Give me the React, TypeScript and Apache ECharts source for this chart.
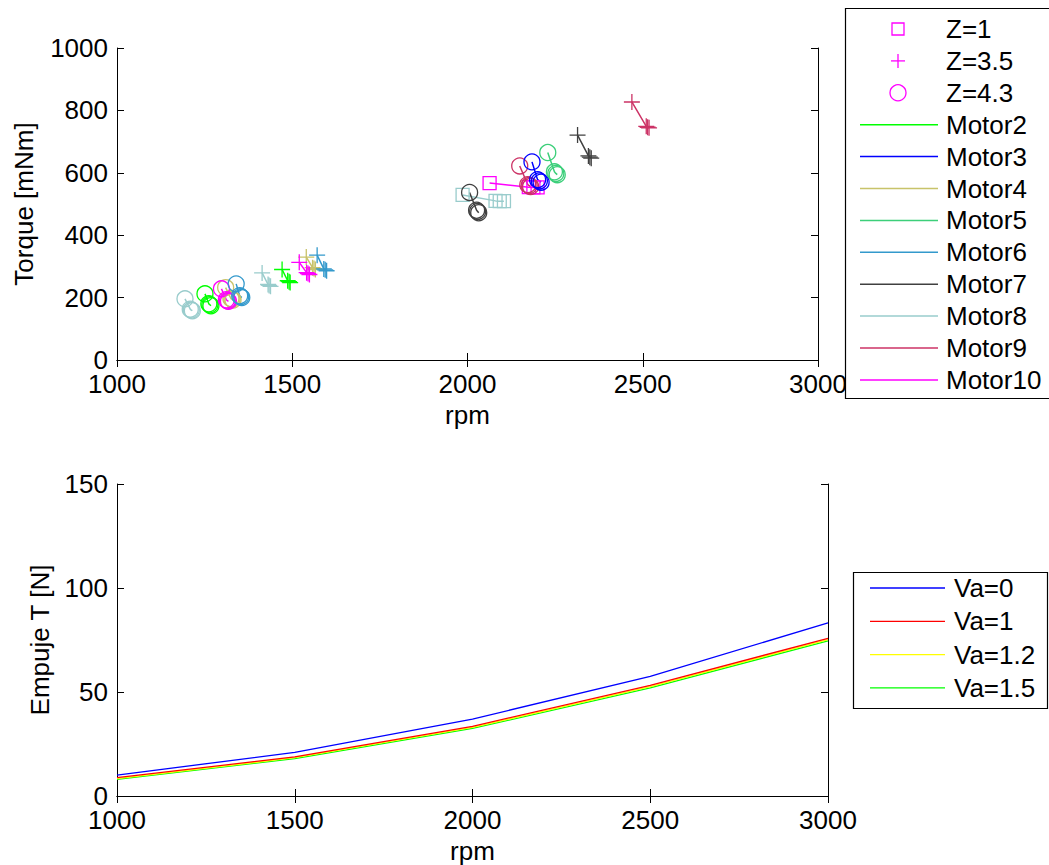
import React, { useEffect, useRef } from "react";
import * as echarts from "echarts";

// ---------- DATA ----------
const rpmTicks = [1000, 1500, 2000, 2500, 3000];

// Z = 1 (squares): [rpm, torque mNm]
const motor8Z1 = [[1986, 529], [2080, 510], [2092, 509], [2104, 509]];
const motor10Z1 = [[2063, 567], [2175, 554], [2188, 553], [2200, 553]];

// Z = 3.5 (plus)
const motor2Z35 = [[1471, 290], [1487, 254], [1491, 251], [1494, 248]];
const motor4Z35 = [[1540, 330], [1558, 296], [1562, 293], [1566, 290]];
const motor6Z35 = [[1571, 336], [1590, 292], [1594, 289], [1598, 286]];
const motor7Z35 = [[2314, 721], [2345, 654], [2349, 650], [2353, 647]];
const motor8Z35 = [[1414, 279], [1431, 242], [1434, 239], [1438, 236]];
const motor9Z35 = [[2469, 827], [2510, 749], [2514, 746], [2518, 744]];
const motor10Z35 = [[1520, 313], [1541, 280], [1545, 277], [1549, 274]];

// Z = 4.3 (circles)
const motor2Z43 = [[1251, 212], [1262, 180], [1265, 177], [1268, 174]];
const motor3Z43 = [[2184, 635], [2200, 578], [2205, 574], [2210, 570]];
const motor4Z43 = [[1310, 232], [1325, 197], [1328, 195], [1331, 192]];
const motor5Z43 = [[2229, 665], [2248, 603], [2252, 598], [2256, 594]];
const motor6Z43 = [[1340, 244], [1350, 206], [1353, 203], [1356, 200]];
const motor7Z43 = [[2006, 537], [2026, 480], [2029, 476], [2032, 472]];
const motor8Z43 = [[1194, 196], [1209, 163], [1212, 160], [1215, 158]];
const motor9Z43 = [[2149, 622], [2172, 562], [2176, 559], [2180, 556]];
const motor10Z43 = [[1298, 228], [1312, 193], [1315, 190], [1318, 188]];

// Thrust (lower chart)
const thrustRpm = [1000, 1500, 2000, 2500, 3000];
const thrustVa0 = [10, 21, 37, 57.5, 83.2];
const thrustVa1 = [8.8, 18.8, 33.5, 53.2, 75.8];
const thrustVa12 = [8.4, 18.4, 33.0, 52.6, 75.2];
const thrustVa15 = [8.0, 18.0, 32.5, 52.0, 74.6];

const motorNames = ["Motor2", "Motor3", "Motor4", "Motor5", "Motor6", "Motor7", "Motor8", "Motor9", "Motor10"];
const motorColors = ["#00ff00", "#0000ff", "#c8c36a", "#3ccf7a", "#3399cc", "#404040", "#99cccc", "#cc3366", "#ff00ff"];
const zLabels = ["Z=1", "Z=3.5", "Z=4.3"];
const vaLabels = ["Va=0", "Va=1", "Va=1.2", "Va=1.5"];
const vaColors = ["#0000ff", "#ff0000", "#ffff00", "#00ff00"];

const FONT = "'Liberation Sans', Arial, sans-serif";
const FS = 26;
const PLUS = "path://M0,6L12,6M6,0L6,12";

function color(name: string) {
  return motorColors[motorNames.indexOf(name)];
}

const upperSets: [string, string, number[][]][] = [
  ["Motor8", "Z1", motor8Z1],
  ["Motor10", "Z1", motor10Z1],
  ["Motor2", "Z35", motor2Z35],
  ["Motor4", "Z35", motor4Z35],
  ["Motor6", "Z35", motor6Z35],
  ["Motor7", "Z35", motor7Z35],
  ["Motor8", "Z35", motor8Z35],
  ["Motor9", "Z35", motor9Z35],
  ["Motor10", "Z35", motor10Z35],
  ["Motor8", "Z43", motor8Z43],
  ["Motor2", "Z43", motor2Z43],
  ["Motor4", "Z43", motor4Z43],
  ["Motor10", "Z43", motor10Z43],
  ["Motor6", "Z43", motor6Z43],
  ["Motor7", "Z43", motor7Z43],
  ["Motor9", "Z43", motor9Z43],
  ["Motor3", "Z43", motor3Z43],
  ["Motor5", "Z43", motor5Z43],
];

export default function App() {
  const ref = useRef<HTMLDivElement>(null);

  useEffect(() => {
    if (!ref.current) return;
    const chart = echarts.init(ref.current, undefined, { renderer: "svg" });

    const axisLine = { show: true, lineStyle: { color: "#000", width: 1 } };
    const lbl = { color: "#000", fontSize: FS, fontFamily: FONT };

    const mkX = (grid: number, top: boolean, showLbl: boolean, nameGap: number) => ({
      type: "value",
      gridIndex: grid,
      position: top ? "top" : "bottom",
      min: rpmTicks[0],
      max: rpmTicks[rpmTicks.length - 1],
      interval: 500,
      name: showLbl ? "rpm" : "",
      nameLocation: "middle",
      nameGap,
      nameTextStyle: lbl,
      axisLine,
      axisTick: { show: true, inside: true, length: 7, lineStyle: { color: "#000" } },
      axisLabel: { show: showLbl, ...lbl, lineHeight: 20, margin: 14, formatter: (v: number) => String(v) },
      splitLine: { show: false },
    });
    const mkY = (grid: number, right: boolean, max: number, interval: number, name: string, nameGap: number) => ({
      type: "value",
      gridIndex: grid,
      position: right ? "right" : "left",
      min: 0,
      max,
      interval,
      name: right ? "" : name,
      nameLocation: "middle",
      nameGap,
      nameTextStyle: lbl,
      axisLine,
      axisTick: { show: true, inside: true, length: 7, lineStyle: { color: "#000" } },
      axisLabel: { show: !right, ...lbl, lineHeight: 20, margin: 9, formatter: (v: number) => String(v) },
      splitLine: { show: false },
    });

    const upperSeries = upperSets.map(([m, z, d]) => {
      const c = color(m);
      let symbol = "circle";
      let size = 16;
      if (z === "Z1") { symbol = "rect"; size = 13; }
      if (z === "Z35") { symbol = PLUS; size = 16; }
      return {
        type: "line",
        xAxisIndex: 0,
        yAxisIndex: 0,
        data: d,
        symbol,
        symbolSize: size,
        showAllSymbol: true,
        lineStyle: { color: c, width: 1.5 },
        itemStyle: { color: "rgba(0,0,0,0)", borderColor: c, borderWidth: 1.3 },
        emphasis: { disabled: true },
        z: 3,
      };
    });

    const vaData = [thrustVa0, thrustVa1, thrustVa12, thrustVa15];
    const lowerSeries = vaData.map((vals, i) => ({
      type: "line",
      name: vaLabels[i],
      xAxisIndex: 2,
      yAxisIndex: 2,
      data: thrustRpm.map((r, j) => [r, vals[j]]),
      symbol: "none",
      lineStyle: { color: vaColors[i], width: 1.3 },
      z: 10 - i,
    }));

    // Legends drawn as graphics
    const g: any[] = [];
    g.push({
      type: "rect", shape: { x: 845.5, y: 8.5, width: 240, height: 390 },
      style: { fill: "#fff", stroke: "#000", lineWidth: 1.2 }, z: 100,
    });
    const legY0 = 29, legStep = 31.9;
    zLabels.forEach((t, i) => {
      const y = legY0 + legStep * i;
      if (i === 0) g.push({ type: "rect", shape: { x: 892, y: y - 6, width: 12, height: 12 }, style: { fill: "none", stroke: "#ff00ff", lineWidth: 1.3 }, z: 101 });
      if (i === 1) {
        g.push({ type: "line", shape: { x1: 891, y1: y, x2: 905, y2: y }, style: { stroke: "#ff00ff", lineWidth: 1.3 }, z: 101 });
        g.push({ type: "line", shape: { x1: 898, y1: y - 7, x2: 898, y2: y + 7 }, style: { stroke: "#ff00ff", lineWidth: 1.3 }, z: 101 });
      }
      if (i === 2) g.push({ type: "circle", shape: { cx: 898, cy: y, r: 8 }, style: { fill: "none", stroke: "#ff00ff", lineWidth: 1.3 }, z: 101 });
      g.push({ type: "text", x: 946, y, style: { text: t, fontSize: FS, fontFamily: FONT, fill: "#000", verticalAlign: "middle" }, z: 101 });
    });
    motorNames.forEach((t, i) => {
      const y = legY0 + legStep * (i + 3);
      g.push({ type: "line", shape: { x1: 860, y1: y, x2: 938, y2: y }, style: { stroke: motorColors[i], lineWidth: 1.5 }, z: 101 });
      g.push({ type: "text", x: 946, y, style: { text: t, fontSize: FS, fontFamily: FONT, fill: "#000", verticalAlign: "middle" }, z: 101 });
    });

    g.push({
      type: "rect", shape: { x: 853.5, y: 572.5, width: 194, height: 136 },
      style: { fill: "#fff", stroke: "#000", lineWidth: 1.2 }, z: 100,
    });
    vaLabels.forEach((t, i) => {
      const y = 588 + 33.3 * i;
      g.push({ type: "line", shape: { x1: 870, y1: y, x2: 945, y2: y }, style: { stroke: vaColors[i], lineWidth: 1.3 }, z: 101 });
      g.push({ type: "text", x: 954, y, style: { text: t, fontSize: FS, fontFamily: FONT, fill: "#000", verticalAlign: "middle" }, z: 101 });
    });

    chart.setOption({
      animation: false,
      backgroundColor: "#fff",
      textStyle: { fontFamily: FONT },
      grid: [
        { left: 117, top: 48, width: 701, height: 312, show: false },
        { left: 117, top: 484, width: 711, height: 313, show: false },
      ],
      xAxis: [
        mkX(0, false, true, 42),
        mkX(0, true, false, 0),
        mkX(1, false, true, 42),
        mkX(1, true, false, 0),
      ],
      yAxis: [
        mkY(0, false, 1000, 200, "Torque [mNm]", 80),
        mkY(0, true, 1000, 200, "", 0),
        mkY(1, false, 150, 50, "Empuje T [N]", 64),
        mkY(1, true, 150, 50, "", 0),
      ],
      series: [...upperSeries, ...lowerSeries],
      graphic: g,
    });

    return () => chart.dispose();
  }, []);

  return (
    <div
      ref={ref}
      style={{ position: "fixed", left: 0, top: 0, width: 1049, height: 865, background: "#fff" }}
    />
  );
}
